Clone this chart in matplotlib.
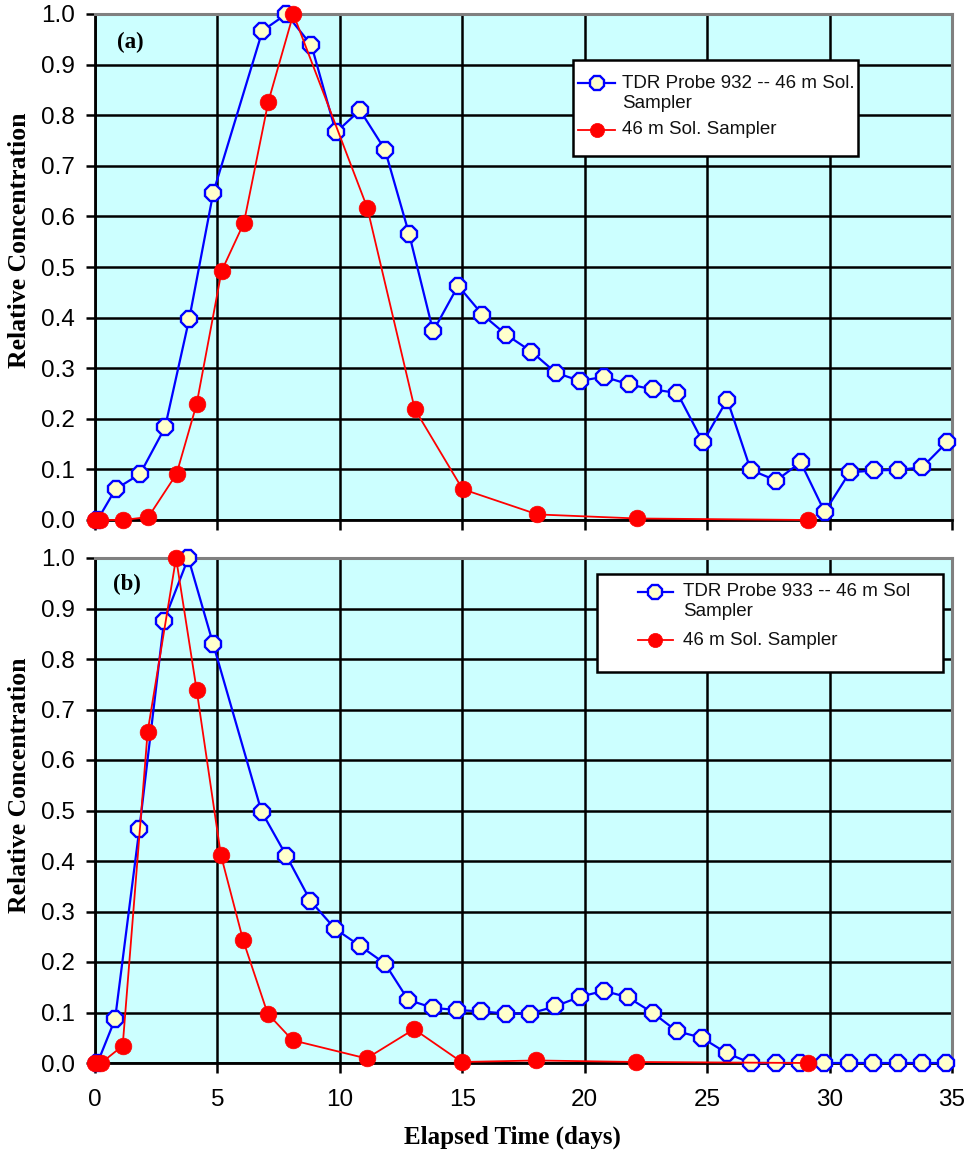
import matplotlib
matplotlib.use("Agg")
import matplotlib.pyplot as plt
from matplotlib.patches import Rectangle
from matplotlib.lines import Line2D

# ---------------- data ----------------
# Panel (a)
ta_tdr = [0.1, 0.84, 1.84, 2.86, 3.85, 4.83, 6.84, 7.82, 8.84, 9.84, 10.82, 11.84,
          12.83, 13.81, 14.83, 15.82, 16.8, 17.82, 18.82, 19.8, 20.8, 21.8, 22.79,
          23.78, 24.83, 25.82, 26.78, 27.82, 28.82, 29.8, 30.82, 31.81, 32.79, 33.78, 34.8]
ca_tdr = [0.0, 0.061, 0.091, 0.183, 0.398, 0.647, 0.967, 1.0, 0.938, 0.766, 0.81, 0.732,
          0.565, 0.373, 0.463, 0.406, 0.366, 0.333, 0.291, 0.275, 0.283, 0.268, 0.258,
          0.251, 0.154, 0.238, 0.099, 0.078, 0.114, 0.016, 0.094, 0.098, 0.099, 0.104, 0.154]
ta_sol = [0.0, 0.2, 1.16, 2.18, 3.33, 4.15, 5.17, 6.08, 7.08, 8.1, 11.12, 13.06, 15.01,
          18.07, 22.13, 29.12]
ca_sol = [0.0, 0.0, 0.0, 0.006, 0.091, 0.229, 0.492, 0.587, 0.827, 1.0, 0.617, 0.219,
          0.061, 0.011, 0.003, 0.0]

# Panel (b)
tb_tdr = [0.1, 0.82, 1.81, 2.82, 3.81, 4.83, 6.8, 7.82, 8.8, 9.8, 10.82, 11.84, 12.79,
          13.81, 14.79, 15.78, 16.78, 17.78, 18.78, 19.8, 20.78, 21.77, 22.79, 23.76,
          24.78, 25.82, 26.78, 27.8, 28.78, 29.77, 30.8, 31.78, 32.8, 33.78, 34.76]
cb_tdr = [0.0, 0.087, 0.463, 0.876, 1.0, 0.829, 0.498, 0.41, 0.321, 0.266, 0.232, 0.197,
          0.125, 0.109, 0.105, 0.102, 0.098, 0.098, 0.112, 0.131, 0.143, 0.13, 0.099,
          0.063, 0.05, 0.019, 0.0, 0.0, 0.0, 0.0, 0.0, 0.0, 0.0, 0.0, 0.0]
tb_sol = [0.0, 0.25, 1.13, 2.15, 3.31, 4.15, 5.14, 6.05, 7.05, 8.07, 11.09, 13.03,
          14.97, 18.03, 22.11, 29.12]
cb_sol = [0.0, 0.0, 0.034, 0.656, 1.0, 0.739, 0.412, 0.243, 0.098, 0.045, 0.009, 0.067,
          0.002, 0.005, 0.002, 0.0]

labels_a = ["TDR Probe 932 -- 46 m Sol.\nSampler", "46 m Sol. Sampler"]
labels_b = ["TDR Probe 933 -- 46 m Sol\nSampler", "46 m Sol. Sampler"]
panel_tags = ["(a)", "(b)"]
xticks = [0, 5, 10, 15, 20, 25, 30, 35]
yticks = [0.0, 0.1, 0.2, 0.3, 0.4, 0.5, 0.6, 0.7, 0.8, 0.9, 1.0]
ylabel = "Relative Concentration"
xlabel = "Elapsed Time (days)"

# ---------------- style ----------------
BG = "#CCFFFF"
BLUE = "#0000FF"
RED = "#FF0000"
CREAM = "#FFFFCC"
SERIF = ["Liberation Serif", "DejaVu Serif"]
SANS = ["Liberation Sans", "DejaVu Sans"]

blue_style = dict(color=BLUE, lw=1.6, marker="8", ms=12, mfc=CREAM, mec=BLUE, mew=1.7)
red_style = dict(color=RED, lw=1.3, marker="o", ms=12, mfc=RED, mec=RED, mew=0.5)

W, H = 968, 1151
fig = plt.figure(figsize=(W / 100, H / 100), dpi=100)
fig.patch.set_facecolor("white")

ax_a = fig.add_axes([95 / W, 1 - 520 / H, 857 / W, 506 / H])
ax_b = fig.add_axes([95 / W, 1 - 1063 / H, 857 / W, 505 / H])


def style_axes(ax, show_xlabels):
    ax.set_facecolor(BG)
    ax.set_xlim(0, 35)
    ax.set_ylim(0, 1.0)
    ax.set_xticks(xticks)
    ax.set_yticks(yticks)
    ax.set_yticklabels([f"{v:.1f}" for v in yticks])
    ax.set_axisbelow(True)
    ax.grid(True, color="black", lw=1.8)
    for s in ["left", "bottom"]:
        ax.spines[s].set_color("black")
        ax.spines[s].set_linewidth(2.0)
    for s in ["top", "right"]:
        ax.spines[s].set_color("#808080")
        ax.spines[s].set_linewidth(2.2)
    ax.tick_params(axis="y", direction="out", length=6.5, width=1.8, pad=8,
                   labelsize=17.5, color="black")
    ax.tick_params(axis="x", direction="out", length=7, width=1.8, pad=12,
                   labelsize=17.5, color="black", labelbottom=show_xlabels)
    for lab in ax.get_xticklabels() + ax.get_yticklabels():
        lab.set_fontfamily(SANS)


def draw_legend(ax, box, handle_x, text_x, rows, styles, labels, fs=13.5, line_dy=0.0395):
    x0, y0, x1, y1 = box
    ax.add_patch(Rectangle((x0, y0), x1 - x0, y1 - y0, transform=ax.transAxes,
                           facecolor="white", edgecolor="black", lw=1.8, zorder=10,
                           clip_on=False))
    for yr, st, lab in zip(rows, styles, labels):
        ln = Line2D([handle_x[0], handle_x[1]], [yr, yr], transform=ax.transAxes,
                    zorder=11, clip_on=False, **{k: v for k, v in st.items() if k != "marker"})
        ax.add_line(ln)
        mk = Line2D([(handle_x[0] + handle_x[1]) / 2], [yr], transform=ax.transAxes,
                    zorder=12, clip_on=False, lw=0, marker=st["marker"],
                    ms=st["ms"] * 0.85, mfc=st["mfc"], mec=st["mec"], mew=st["mew"])
        ax.add_line(mk)
        for i, part in enumerate(lab.split("\n")):
            ax.text(text_x, yr - i * line_dy, part, transform=ax.transAxes,
                    fontsize=fs, family=SANS, va="center", ha="left", zorder=13,
                    color="#111111")


for ax, show in [(ax_a, False), (ax_b, True)]:
    style_axes(ax, show)

# Panel (a)
ax_a.plot(ta_tdr, ca_tdr, zorder=3, clip_on=False, **blue_style)
ax_a.plot(ta_sol, ca_sol, zorder=4, clip_on=False, **red_style)
# Panel (b)
ax_b.plot(tb_tdr, cb_tdr, zorder=3, clip_on=False, **blue_style)
ax_b.plot(tb_sol, cb_sol, zorder=4, clip_on=False, **red_style)

# panel tags
ax_a.text(0.0408, 0.9447, panel_tags[0], transform=ax_a.transAxes, fontsize=16.5,
          fontweight="bold", family=SERIF, ha="center", va="center")
ax_b.text(0.0373, 0.9485, panel_tags[1], transform=ax_b.transAxes, fontsize=16.5,
          fontweight="bold", family=SERIF, ha="center", va="center")

# y labels
for ax, yc in [(ax_a, 0.553), (ax_b, 0.5505)]:
    ax.set_ylabel(ylabel, fontsize=18.5, fontweight="bold", family=SERIF)
    ax.yaxis.set_label_coords(-0.0747, yc)

ax_b.set_xlabel(xlabel, fontsize=18, fontweight="bold", family=SERIF)
ax_b.xaxis.set_label_coords(0.4866, -0.124)

# legends
draw_legend(ax_a, (0.5578, 0.7194, 0.8903, 0.9091), (0.5636, 0.6068), 0.6149,
            [0.8636, 0.7708], [blue_style, red_style], labels_a)
draw_legend(ax_b, (0.5858, 0.7743, 0.9895, 0.9683), (0.6336, 0.6744), 0.6861,
            [0.9333, 0.8376], [blue_style, red_style], labels_b)

fig.savefig("out.png", dpi=100, facecolor="white")
